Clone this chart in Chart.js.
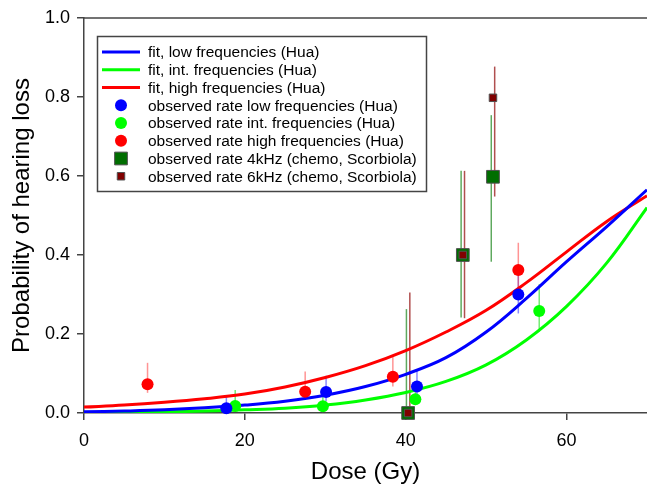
<!DOCTYPE html>
<html>
<head>
<meta charset="utf-8">
<script src="https://cdn.jsdelivr.net/npm/chart.js@4"></script>
<style>
  body { margin: 0; background: #fff; }
  #wrap { width: 647px; height: 484px; }
</style>
</head>
<body>
<div id="wrap"><canvas id="chart" width="647" height="484"></canvas></div>
<script>
// fitted curves
const fitDose = [0, 5, 10, 15, 20, 25, 30, 35, 40, 45, 50, 55, 60, 65, 70];
const fitLow  = [0.003, 0.005, 0.008, 0.013, 0.02, 0.03, 0.045, 0.067, 0.098, 0.14, 0.205, 0.29, 0.383, 0.472, 0.565];
const fitInt  = [0.001, 0.002, 0.003, 0.005, 0.008, 0.012, 0.02, 0.033, 0.052, 0.08, 0.122, 0.185, 0.27, 0.38, 0.52];
const fitHigh = [0.015, 0.02, 0.027, 0.036, 0.048, 0.066, 0.09, 0.12, 0.158, 0.205, 0.26, 0.33, 0.408, 0.485, 0.55];

// observed rates, Hua
const lowDose  = [17.7, 30.1, 41.4, 54.0];
const lowRate  = [0.012, 0.053, 0.067, 0.30];
const lowErrLo = [0.0, 0.03, 0.04, 0.252];
const lowErrHi = [0.041, 0.094, 0.109, 0.36];

const intDose  = [18.8, 29.7, 41.2, 56.6];
const intRate  = [0.018, 0.017, 0.035, 0.258];
const intErrLo = [0.005, 0.005, 0.02, 0.206];
const intErrHi = [0.058, 0.054, 0.06, 0.326];

const highDose  = [7.9, 27.5, 38.4, 54.0];
const highRate  = [0.073, 0.054, 0.092, 0.362];
const highErrLo = [0.051, 0.038, 0.067, 0.30];
const highErrHi = [0.127, 0.105, 0.142, 0.431];

// observed rates, chemo (Scorbiola)
const chemoDose  = [40.3, 47.1, 50.85];
const khz4Rate   = [0.0, 0.40, 0.598];
const khz4ErrLo  = [0.0, 0.242, 0.383];
const khz4ErrHi  = [0.263, 0.613, 0.754];
const khz6Rate   = [0.0, 0.40, 0.798];
const khz6ErrLo  = [0.0, 0.24, 0.548];
const khz6ErrHi  = [0.305, 0.613, 0.877];

const xTicks = [0, 20, 40, 60];
const yTicks = [0, 0.2, 0.4, 0.6, 0.8, 1.0];

const FONT = "Arial, 'Liberation Sans', sans-serif";
const AXIS = "#444";

const pts = (xs, ys) => xs.map((x, i) => ({ x: x, y: ys[i] }));

// error bar sets: color, x pixel shift
const errorBars = [
    { xs: intDose, lo: intErrLo, hi: intErrHi, color: "rgba(0,220,0,0.55)", shift: 0 },
    { xs: lowDose, lo: lowErrLo, hi: lowErrHi, color: "rgba(60,60,255,0.6)", shift: 0 },
    { xs: highDose, lo: highErrLo, hi: highErrHi, color: "rgba(255,60,60,0.55)", shift: 0 },
    { xs: chemoDose, lo: khz4ErrLo, hi: khz4ErrHi, color: "rgba(40,140,40,0.75)", shift: -1.7 },
    { xs: chemoDose, lo: khz6ErrLo, hi: khz6ErrHi, color: "rgba(150,20,20,0.75)", shift: 1.7 }
];

const errorBarPlugin = {
    id: "errorBars",
    beforeDatasetsDraw(chart) {
        const ctx = chart.ctx, xs = chart.scales.x, ys = chart.scales.y;
        ctx.save();
        ctx.lineWidth = 1.5;
        errorBars.forEach(set => {
            ctx.strokeStyle = set.color;
            set.xs.forEach((d, i) => {
                const px = xs.getPixelForValue(d) + set.shift;
                ctx.beginPath();
                ctx.moveTo(px, ys.getPixelForValue(set.lo[i]));
                ctx.lineTo(px, ys.getPixelForValue(set.hi[i]));
                ctx.stroke();
            });
        });
        ctx.restore();
    }
};

// top frame line + legend box
const framePlugin = {
    id: "frame",
    afterDraw(chart) {
        const ctx = chart.ctx, a = chart.chartArea;
        ctx.save();
        ctx.strokeStyle = AXIS;
        ctx.lineWidth = 1.5;
        ctx.beginPath();
        ctx.moveTo(a.left, a.top);
        ctx.lineTo(a.right, a.top);
        ctx.stroke();

        // legend
        ctx.strokeRect(97.5, 36.5, 329, 155);
        const rowY0 = 52, rowGap = 17.75;
        const items = ["fitLow", "fitInt", "fitHigh", "low", "int", "high", "khz4", "khz6"];
        ctx.font = "15.5px " + FONT;
        ctx.textBaseline = "middle";
        ctx.textAlign = "left";
        items.forEach((id, i) => {
            const ds = chart.data.datasets.find(d => d.key === id);
            const y = rowY0 + i * rowGap;
            if (ds.showLine) {
                ctx.strokeStyle = ds.borderColor;
                ctx.lineWidth = 3;
                ctx.beginPath();
                ctx.moveTo(102, y);
                ctx.lineTo(140, y);
                ctx.stroke();
            } else {
                ctx.fillStyle = ds.pointBackgroundColor;
                ctx.strokeStyle = ds.pointBorderColor;
                ctx.beginPath();
                if (ds.pointStyle === "rect") {
                    const s = ds.pointRadius * Math.SQRT1_2;
                    ctx.rect(121 - s, y - s, 2 * s, 2 * s);
                } else {
                    ctx.arc(121, y, ds.pointRadius, 0, Math.PI * 2);
                }
                ctx.fill();
                if (ds.pointBorderWidth) { ctx.lineWidth = ds.pointBorderWidth; ctx.stroke(); }
            }
            ctx.fillStyle = "#000";
            ctx.fillText(ds.label, 148, y + 1);
        });
        ctx.restore();
    }
};

const fitLine = (key, label, ys, color) => ({
    key: key, label: label, data: pts(fitDose, ys), showLine: true,
    borderColor: color, borderWidth: 3, pointRadius: 0, pointHoverRadius: 0,
    tension: 0.4, fill: false, order: 3
});
const dots = (key, label, xs, ys, color) => ({
    key: key, label: label, data: pts(xs, ys), showLine: false,
    pointStyle: "circle", pointRadius: 6, pointBorderWidth: 0,
    pointBackgroundColor: color, pointBorderColor: color, clip: false, order: 2
});
const squares = (key, label, ys, color, r, order) => ({
    key: key, label: label, data: pts(chemoDose, ys), showLine: false,
    pointStyle: "rect", pointRadius: r, pointBorderWidth: 1,
    pointBackgroundColor: color, pointBorderColor: "#505050", clip: false, order: order
});

new Chart(document.getElementById("chart"), {
    type: "scatter",
    data: {
        datasets: [
            fitLine("fitLow", "fit, low frequencies (Hua)", fitLow, "#0000ff"),
            fitLine("fitInt", "fit, int. frequencies (Hua)", fitInt, "#00ff00"),
            fitLine("fitHigh", "fit, high frequencies (Hua)", fitHigh, "#ff0000"),
            dots("low", "observed rate low frequencies (Hua)", lowDose, lowRate, "#0000ff"),
            dots("int", "observed rate int. frequencies (Hua)", intDose, intRate, "#00ff00"),
            dots("high", "observed rate high frequencies (Hua)", highDose, highRate, "#ff0000"),
            squares("khz4", "observed rate 4kHz (chemo, Scorbiola)", khz4Rate, "#006e00", 9, 1),
            squares("khz6", "observed rate 6kHz (chemo, Scorbiola)", khz6Rate, "#800000", 5.3, 0)
        ]
    },
    options: {
        responsive: false,
        animation: false,
        layout: { autoPadding: false, padding: { left: 0, right: 0, top: 18, bottom: 0 } },
        plugins: { legend: { display: false }, tooltip: { enabled: false } },
        scales: {
            x: {
                type: "linear", min: 0, max: 70,
                afterFit: s => { s.height = 71; },
                afterBuildTicks: s => { s.ticks = xTicks.map(v => ({ value: v })); },
                ticks: { font: { family: FONT, size: 18 }, color: "#000", padding: 10 },
                grid: { display: true, drawOnChartArea: false, drawTicks: true, tickLength: 7, color: AXIS, lineWidth: 1.5 },
                border: { display: true, color: AXIS, width: 1.5 },
                title: { display: true, text: "Dose (Gy)", color: "#000",
                         font: { family: FONT, size: 24, lineHeight: 1 }, padding: { top: 0, bottom: 0 } }
            },
            y: {
                type: "linear", min: 0, max: 1,
                afterFit: s => { s.width = 84; },
                afterBuildTicks: s => { s.ticks = yTicks.map(v => ({ value: v })); },
                ticks: { font: { family: FONT, size: 18 }, color: "#000", padding: 7,
                         callback: v => v.toFixed(1) },
                grid: { display: true, drawOnChartArea: false, drawTicks: true, tickLength: 7, color: AXIS, lineWidth: 1.5 },
                border: { display: true, color: AXIS, width: 1.5 },
                title: { display: true, text: "Probability of hearing loss", color: "#000",
                         font: { family: FONT, size: 24, lineHeight: 1 }, padding: { top: 10, bottom: 0 } }
            }
        }
    },
    plugins: [errorBarPlugin, framePlugin]
});
</script>
</body>
</html>
